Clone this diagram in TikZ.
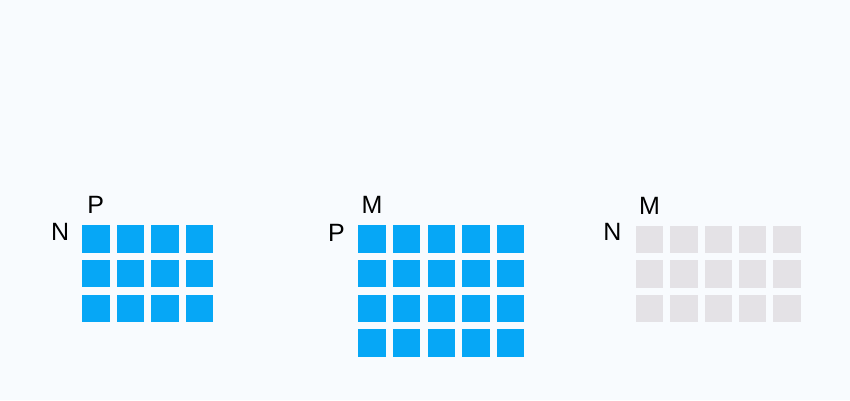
\documentclass[tikz,border=0pt]{standalone}
\usepackage{fontspec}
\setmainfont{Liberation Sans}
\usetikzlibrary{positioning}
\definecolor{cellblue}{RGB}{6,167,246}
\definecolor{cellgrey}{RGB}{228,226,230}
\definecolor{paper}{RGB}{248,251,254}

\begin{document}
\begin{tikzpicture}[x=1pt,y=-1pt,node distance=11.5pt]
	\tikzset{cell/.style={minimum size=27.5pt, inner sep=0pt, outer sep=0pt},
		dimlabel/.style={font=\fontsize{25}{25}\selectfont, inner sep=0pt}}
	\fill[paper] (0,0) rectangle (850,400);
	\useasboundingbox (0,0) rectangle (850,400);
	% N x P
	\foreach \r in {1,...,3}
		\foreach \c in {1,...,4}
			\node[cell, fill=cellblue] (a-\r-\c) at ({95.75+34.6*(\c-1)},{239.05+34.6*(\r-1)}) {};
	% P x M
	\foreach \r in {1,...,4}
		\foreach \c in {1,...,5}
			\node[cell, fill=cellblue] (b-\r-\c) at ({372.05+34.6*(\c-1)},{239.05+34.6*(\r-1)}) {};
	% N x M
	\foreach \r in {1,...,3}
		\foreach \c in {1,...,5}
			\node[cell, fill=cellgrey] (c-\r-\c) at ({649.45+34.4*(\c-1)},{239.45+34.4*(\r-1)}) {};
	\node[dimlabel, above=of a-1-1] (aP) {P};
	\node[dimlabel, anchor=north east] (aN) at ([xshift=-12.7pt,yshift=2.6pt]a-1-1.north west) {N};
	\node[dimlabel, above=of b-1-1] (bM) {M};
	\node[dimlabel, anchor=north east] (bP) at ([xshift=-13.3pt,yshift=1pt]b-1-1.north west) {P};
	\node[dimlabel, above=of c-1-1] (cM) {M};
	\node[dimlabel, anchor=north east] (cN) at ([xshift=-14pt,yshift=2.4pt]c-1-1.north west) {N};
\end{tikzpicture}
\end{document}
